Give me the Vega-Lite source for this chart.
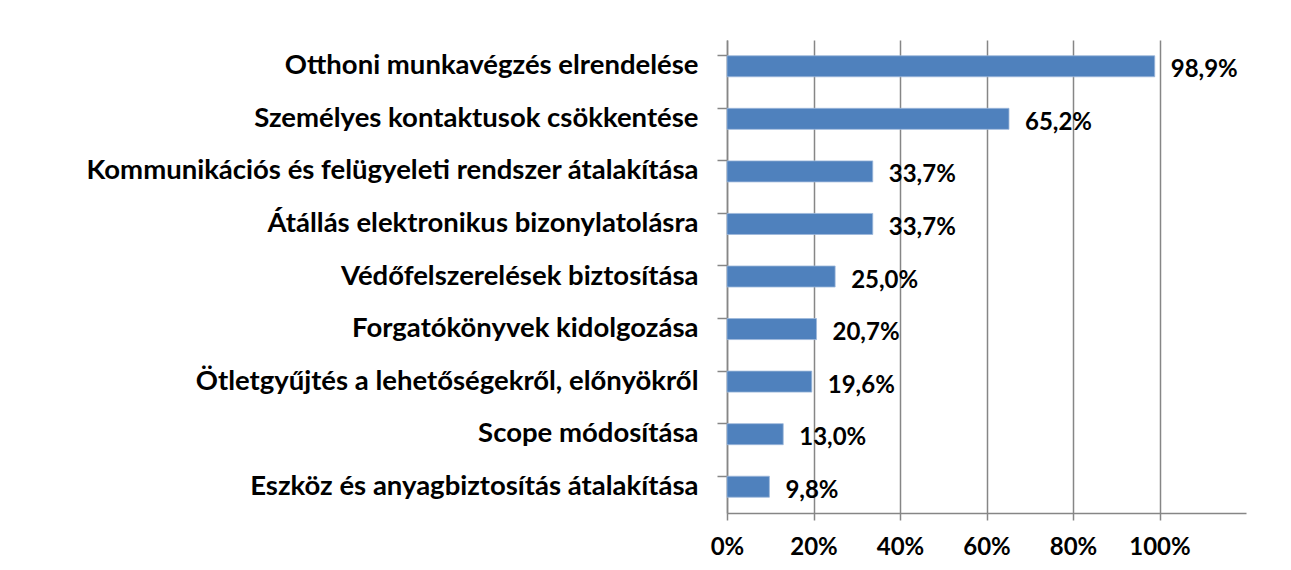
{
  "$schema": "https://vega.github.io/schema/vega-lite/v6.json",
  "autosize": "none",
  "padding": {"left": 727, "top": 40, "right": 45, "bottom": 57},
  "width": 519,
  "height": 473,
  "background": "white",
  "data": {"values": [
    {"cat": "Otthoni munkavégzés elrendelése", "v": 0.989, "lbl": "98,9%"},
    {"cat": "Személyes kontaktusok csökkentése", "v": 0.652, "lbl": "65,2%"},
    {"cat": "Kommunikációs és felügyeleti rendszer átalakítása", "v": 0.337, "lbl": "33,7%"},
    {"cat": "Átállás elektronikus bizonylatolásra", "v": 0.337, "lbl": "33,7%"},
    {"cat": "Védőfelszerelések biztosítása", "v": 0.25, "lbl": "25,0%"},
    {"cat": "Forgatókönyvek kidolgozása", "v": 0.207, "lbl": "20,7%"},
    {"cat": "Ötletgyűjtés a lehetőségekről, előnyökről", "v": 0.196, "lbl": "19,6%"},
    {"cat": "Scope módosítása", "v": 0.13, "lbl": "13,0%"},
    {"cat": "Eszköz és anyagbiztosítás átalakítása", "v": 0.098, "lbl": "9,8%"}
  ]},
  "encoding": {
    "y": {"field": "cat", "type": "nominal", "sort": null,
      "scale": {"paddingInner": 0.6, "paddingOuter": 0.3},
      "axis": {"title": null, "labelFont": "Lato", "labelFontWeight": "bold", "labelFontSize": 27.5, "labelColor": "#000000",
        "labelPadding": 19, "tickSize": 10, "tickColor": "#868686", "tickWidth": 1.5, "bandPosition": 0,
        "domainColor": "#868686", "domainWidth": 1.5, "labelLimit": 720}},
    "x": {"field": "v", "type": "quantitative",
      "scale": {"domain": [0, 1.2], "nice": false},
      "axis": {"title": null, "values": [0, 0.2, 0.4, 0.6, 0.8, 1.0], "format": ".0%", "labelFlush": false,
        "labelFont": "Lato", "labelFontWeight": "bold", "labelFontSize": 24, "labelColor": "#000000",
        "labelPadding": 15, "tickSize": 7, "tickColor": "#868686", "tickWidth": 1.5,
        "domainColor": "#868686", "domainWidth": 1.5,
        "grid": true, "gridColor": "#868686", "gridWidth": 1.5}}
  },
  "layer": [
    {"mark": {"type": "bar", "color": "#4F81BD", "stroke": "#9DB7DB", "strokeWidth": 0.8}},
    {"mark": {"type": "text", "align": "left", "baseline": "middle", "dx": 16, "dy": 4,
      "font": "Lato", "fontWeight": "bold", "fontSize": 24, "color": "#000000"},
     "encoding": {"text": {"field": "lbl"}}}
  ],
  "config": {"view": {"stroke": null}}
}
